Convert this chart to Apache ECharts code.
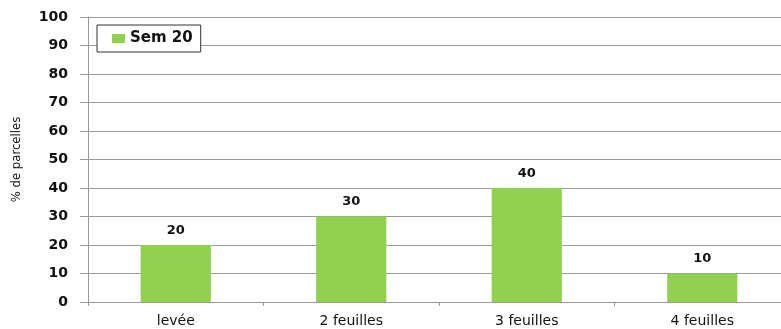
<!DOCTYPE html>
<html>
<head>
<meta charset="utf-8">
<script src="https://cdn.jsdelivr.net/npm/echarts@6/dist/echarts.min.js"></script>
<style>
  html, body { margin: 0; padding: 0; background: #fff; overflow: hidden; }
  #chart { width: 790px; height: 329px; }
</style>
</head>
<body>
<div id="chart"></div>
<script>
var categories = ["levée", "2 feuilles", "3 feuilles", "4 feuilles"];
var sem20 = [20, 30, 40, 10];
var seriesName = "Sem 20";
var axisTitle = "% de parcelles";

// the plot runs a little past the right edge of the window, as in the original
var chart = echarts.init(document.getElementById("chart"));
chart.setOption({
  animation: false,
  backgroundColor: "#ffffff",
  legend: {
    left: 97,
    top: 25,
    orient: "vertical",
    data: [seriesName],
    icon: "rect",
    backgroundColor: "#ffffff",
    borderColor: "#333333",
    borderWidth: 1,
    padding: [6, 8, 6, 15],
    itemWidth: 13,
    itemHeight: 9,
    itemGap: 4,
    textStyle: { fontFamily: "DejaVu Sans", fontWeight: "bold", fontSize: 15, color: "#111" }
  },
  grid: { left: 88, right: 0, top: 17, bottom: 27 },
  xAxis: {
    type: "category",
    data: categories,
    axisLine: { lineStyle: { color: "#999999", width: 1 } },
    axisTick: { show: true, length: 4, lineStyle: { color: "#999999" } },
    axisLabel: { fontFamily: "DejaVu Sans", fontSize: 14, color: "#111", margin: 12 }
  },
  yAxis: {
    type: "value",
    min: 0,
    max: 100,
    interval: 10,
    name: axisTitle,
    nameLocation: "middle",
    nameRotate: 90,
    nameGap: 65,
    nameTextStyle: { fontFamily: "Liberation Sans Narrow, DejaVu Sans Condensed", fontSize: 13, color: "#111" },
    axisLine: { show: true, lineStyle: { color: "#999999" } },
    axisTick: { show: true, length: 8, lineStyle: { color: "#999999" } },
    splitLine: { lineStyle: { color: "#9a9a9a", width: 1 } },
    axisLabel: { fontFamily: "DejaVu Sans", fontWeight: "bold", fontSize: 14, color: "#111", margin: 20 }
  },
  series: [{
    name: seriesName,
    type: "bar",
    data: sem20,
    barWidth: "40%",
    itemStyle: { color: "#92D050" },
    label: {
      show: true,
      position: "top",
      distance: 8,
      fontFamily: "DejaVu Sans",
      fontWeight: "bold",
      fontSize: 13,
      color: "#111"
    }
  }]
});
window.addEventListener("resize", function () { chart.resize(); });
</script>
</body>
</html>
